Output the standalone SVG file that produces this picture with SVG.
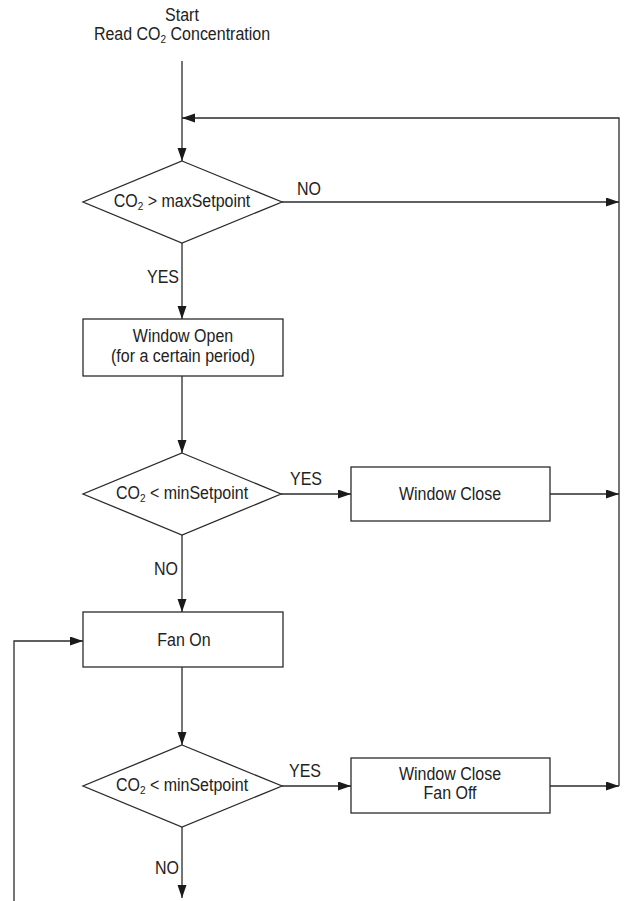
<svg xmlns="http://www.w3.org/2000/svg" width="624" height="901" viewBox="0 0 624 901">
  <style>
    .shape { fill: #fff; stroke: #2b2b2b; stroke-width: 1.3; }
    .conn { fill: none; stroke: #2b2b2b; stroke-width: 1.3; }
    text { font-family: "Liberation Sans", Arial, sans-serif; font-size: 16px; fill: #222; }
    .c { text-anchor: middle; }
    .sub { font-size: 10px; }
  </style>
  <defs>
    <marker id="arrow" markerUnits="userSpaceOnUse" markerWidth="14" markerHeight="10" refX="13" refY="4.5" orient="auto">
      <path d="M0,0 L13,4.5 L0,9 Z" fill="#1a1a1a"/>
    </marker>
  </defs>
  <rect width="624" height="901" fill="#fff"/>

  <!-- connectors; text is drawn slightly tall (scale 1 x 1.12 about its baseline) -->
  <g id="connectors">
    <line class="conn" x1="182" y1="61" x2="182" y2="161" marker-end="url(#arrow)"/>
    <path class="conn" d="M619,786 V118 H182" marker-end="url(#arrow)"/>
    <line class="conn" x1="282" y1="202" x2="619" y2="202" marker-end="url(#arrow)"/>
    <line class="conn" x1="182" y1="243" x2="182" y2="319" marker-end="url(#arrow)"/>
    <line class="conn" x1="182" y1="376" x2="182" y2="453" marker-end="url(#arrow)"/>
    <line class="conn" x1="281" y1="494" x2="351" y2="494" marker-end="url(#arrow)"/>
    <line class="conn" x1="550" y1="494" x2="619" y2="494" marker-end="url(#arrow)"/>
    <line class="conn" x1="182" y1="535" x2="182" y2="612" marker-end="url(#arrow)"/>
    <path class="conn" d="M14,901 V641 H83" marker-end="url(#arrow)"/>
    <line class="conn" x1="182" y1="667" x2="182" y2="745" marker-end="url(#arrow)"/>
    <line class="conn" x1="282" y1="786" x2="351" y2="786" marker-end="url(#arrow)"/>
    <line class="conn" x1="550" y1="786" x2="619" y2="786" marker-end="url(#arrow)"/>
    <line class="conn" x1="182" y1="827" x2="182" y2="898" marker-end="url(#arrow)"/>
    <text transform="translate(297 195) scale(1 1.12)">NO</text>
    <text transform="translate(147 283) scale(1 1.12)">YES</text>
    <text transform="translate(290 485) scale(1 1.12)">YES</text>
    <text transform="translate(154 575) scale(1 1.12)">NO</text>
    <text transform="translate(289 777) scale(1 1.12)">YES</text>
    <text transform="translate(155 874) scale(1 1.12)">NO</text>
  </g>

  <g id="start">
    <text class="c" transform="translate(182 21) scale(1 1.12)">Start</text>
    <text class="c" transform="translate(182 40) scale(1 1.12)">Read CO<tspan class="sub" dy="3">2</tspan><tspan dy="-3"> Concentration</tspan></text>
  </g>

  <g id="check-max">
    <polygon class="shape" points="182,161 282,202 182,243 83,202"/>
    <text class="c" transform="translate(182 207) scale(1 1.12)">CO<tspan class="sub" dy="3">2</tspan><tspan dy="-3"> &gt; maxSetpoint</tspan></text>
  </g>

  <g id="window-open">
    <rect class="shape" x="83" y="319" width="200" height="57"/>
    <text class="c" transform="translate(183 342) scale(1 1.12)">Window Open</text>
    <text class="c" transform="translate(183 362) scale(1 1.12)">(for a certain period)</text>
  </g>

  <g id="check-min-1">
    <polygon class="shape" points="182,453 281,494 182,535 83,494"/>
    <text class="c" transform="translate(182 499) scale(1 1.12)">CO<tspan class="sub" dy="3">2</tspan><tspan dy="-3"> &lt; minSetpoint</tspan></text>
  </g>

  <g id="window-close">
    <rect class="shape" x="351" y="467" width="199" height="54"/>
    <text class="c" transform="translate(450 500) scale(1 1.12)">Window Close</text>
  </g>

  <g id="fan-on">
    <rect class="shape" x="83" y="612" width="200" height="55"/>
    <text class="c" transform="translate(184 646) scale(1 1.12)">Fan On</text>
  </g>

  <g id="check-min-2">
    <polygon class="shape" points="182,745 282,786 182,827 83,786"/>
    <text class="c" transform="translate(182 791) scale(1 1.12)">CO<tspan class="sub" dy="3">2</tspan><tspan dy="-3"> &lt; minSetpoint</tspan></text>
  </g>

  <g id="window-close-fan-off">
    <rect class="shape" x="351" y="758" width="199" height="55"/>
    <text class="c" transform="translate(450 780) scale(1 1.12)">Window Close</text>
    <text class="c" transform="translate(450 799) scale(1 1.12)">Fan Off</text>
  </g>
</svg>
